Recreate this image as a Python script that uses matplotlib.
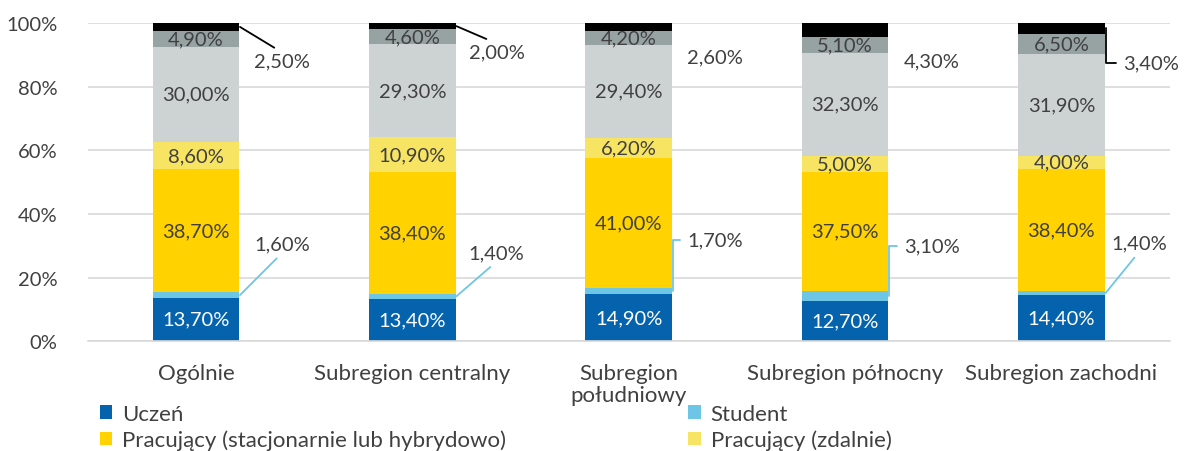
import matplotlib.pyplot as plt
import numpy as np

categories = ["Ogólnie", "Subregion centralny", "Subregion\npołudniowy",
              "Subregion północny", "Subregion zachodni"]

uczen = [13.7, 13.4, 14.9, 12.7, 14.4]
student = [1.6, 1.4, 1.7, 3.1, 1.4]
pracujacy_stac = [38.7, 38.4, 41.0, 37.5, 38.4]
pracujacy_zdal = [8.6, 10.9, 6.2, 5.0, 4.0]
inne_1 = [30.0, 29.3, 29.4, 32.3, 31.9]
inne_2 = [4.9, 4.6, 4.2, 5.1, 6.5]
inne_3 = [2.5, 2.0, 2.6, 4.3, 3.4]

series = [
    ("Uczeń", uczen, "#0563AE"),
    ("Student", student, "#6EC6E6"),
    ("Pracujący (stacjonarnie lub hybrydowo)", pracujacy_stac, "#FFD200"),
    ("Pracujący (zdalnie)", pracujacy_zdal, "#F7E463"),
    ("_inne1", inne_1, "#CDD3D3"),
    ("_inne2", inne_2, "#97A3A2"),
    ("_inne3", inne_3, "#000000"),
]

# outside label placement: (x offset from bar centre, y in axis fraction, leader style)
student_labels = [(0.40, 0.305, "diag"), (0.39, 0.277, "diag"), (0.40, 0.318, "elbow"),
                  (0.40, 0.299, "elbow"), (0.36, 0.308, "diag")]
top_labels = [(0.40, 0.88, "diag"), (0.39, 0.909, "diag"), (0.40, 0.893, None),
              (0.40, 0.88, None), (0.415, 0.874, "elbow")]

plt.rcParams["font.family"] = ["Lato", "DejaVu Sans"]
text_color = "#404040"

fig = plt.figure(figsize=(11.85, 4.52), dpi=100)
ax = fig.add_axes([0.074, 0.243, 0.913, 0.704])

x = np.arange(len(categories))
width = 0.4
bottom = np.zeros(len(categories))
segments = {}

for name, values, color in series:
    values = np.array(values) / 100.0
    ax.bar(x, values, width, bottom=bottom, color=color, label=name, zorder=2)
    segments[name] = (bottom.copy(), values)
    bottom = bottom + values

# labels inside bars
inside = ["Uczeń", "Pracujący (stacjonarnie lub hybrydowo)", "Pracujący (zdalnie)", "_inne1", "_inne2"]
for name in inside:
    base, values = segments[name]
    color = "white" if name == "Uczeń" else text_color
    for i in range(len(x)):
        ax.text(x[i], base[i] + values[i] / 2, f"{values[i] * 100:.2f}%".replace(".", ","),
                ha="center", va="center", fontsize=14.5, color=color, zorder=3)


def outside_labels(name, placements, line_color, rel_y):
    base, values = segments[name]
    for i, (dx, ty, style) in enumerate(placements):
        label = f"{values[i] * 100:.2f}%".replace(".", ",")
        anchor = (x[i] + width / 2 + 0.004, base[i] + values[i] / 2)
        if style is None:
            ax.text(x[i] + dx, ty, label, ha="center", va="center",
                    fontsize=14.5, color=text_color, zorder=4)
        elif style == "diag":
            ax.annotate(label, xy=anchor, xytext=(x[i] + dx, ty), ha="center", va="center",
                        fontsize=14.5, color=text_color, zorder=4,
                        arrowprops=dict(arrowstyle="-", color=line_color, lw=1.3,
                                        shrinkA=3, shrinkB=0, relpos=(0.5, rel_y)))
        else:
            ax.annotate(label, xy=anchor, xytext=(x[i] + dx, ty), ha="center", va="center",
                        fontsize=14.5, color=text_color, zorder=4,
                        arrowprops=dict(arrowstyle="-", color=line_color, lw=1.3,
                                        shrinkA=3, shrinkB=0, relpos=(0, 0.5),
                                        connectionstyle="angle,angleA=0,angleB=90,rad=0"))


outside_labels("Student", student_labels, "#6EC6E6", 0.0)
outside_labels("_inne3", top_labels, "#000000", 1.0)

ax.set_xlim(-0.5, 4.5)
ax.set_ylim(0, 1)
ax.set_yticks(np.arange(0, 1.01, 0.2))
ax.set_yticklabels([f"{int(v * 100)}%" for v in np.arange(0, 1.01, 0.2)])
ax.set_xticks(x)
ax.set_xticklabels(categories, linespacing=1.15)
ax.tick_params(axis="both", length=0, colors=text_color)
ax.tick_params(axis="y", pad=22, labelsize=14.5)
ax.tick_params(axis="x", pad=15.5, labelsize=16)
ax.grid(axis="y", color="#D9D9D9", linewidth=1.2, zorder=0)
for side in ["left", "right", "top"]:
    ax.spines[side].set_visible(False)
ax.spines["bottom"].set_color("#D9D9D9")
ax.spines["bottom"].set_linewidth(1.2)

handles, labels = ax.get_legend_handles_labels()
order = [0, 2, 1, 3]
fig.legend([handles[k] for k in order], [labels[k] for k in order],
           loc="upper left", bbox_to_anchor=(0.0844, 0.104), ncol=2, frameon=False,
           fontsize=16, labelcolor=text_color, handlelength=0.55, handleheight=0.55,
           handletextpad=0.45, labelspacing=0.25, columnspacing=8.2, borderaxespad=0,
           borderpad=0)

fig.savefig("out.png", dpi=100)
